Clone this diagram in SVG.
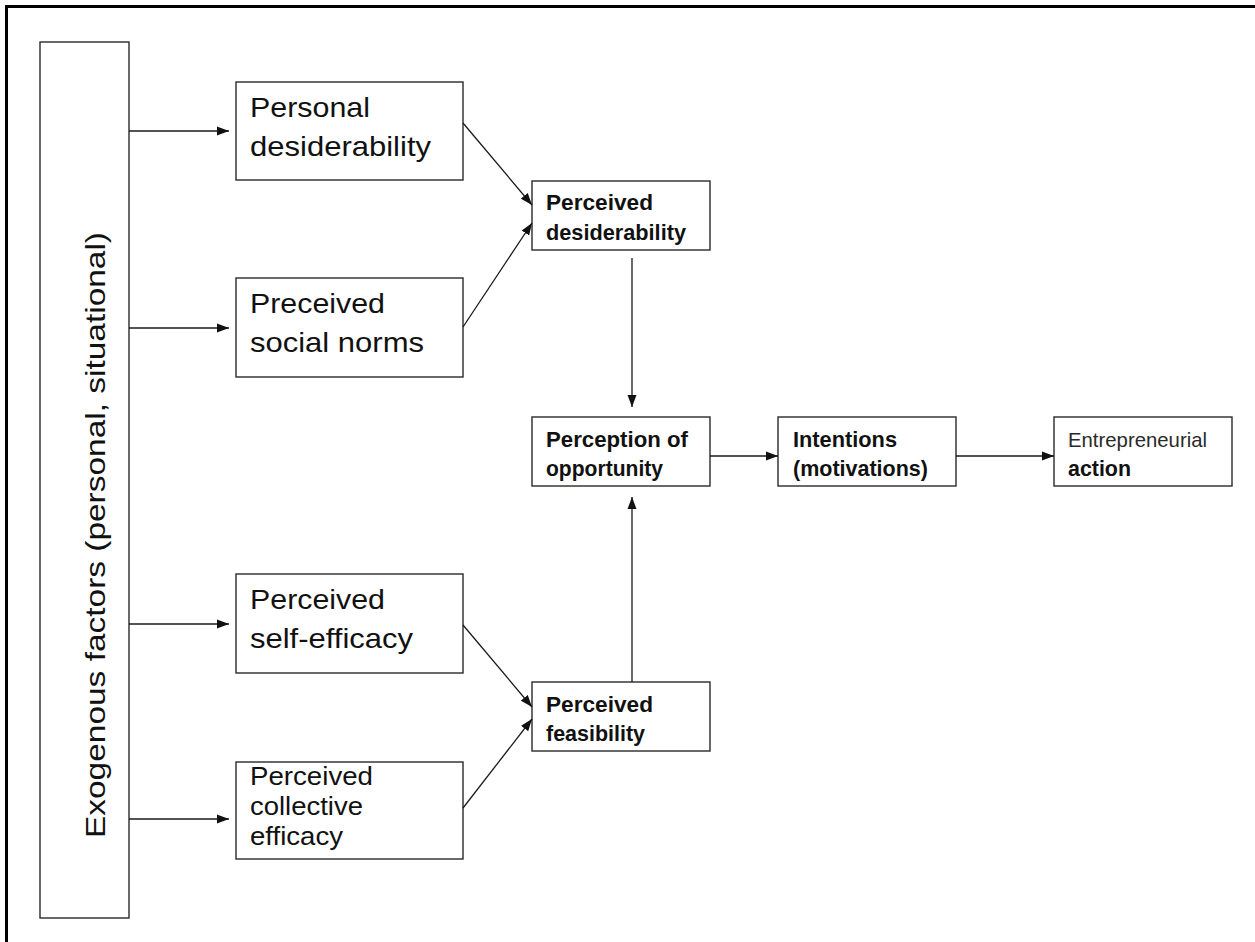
<svg xmlns="http://www.w3.org/2000/svg" width="1255" height="942" viewBox="0 0 1255 942">
  <style>
    .box { fill: #ffffff; stroke: #2a2a2a; stroke-width: 1.4; }
    .big { font-family: "Liberation Sans", Arial, sans-serif; font-size: 28px; fill: #111; }
    .mid { font-family: "Liberation Sans", Arial, sans-serif; font-size: 26px; fill: #111; }
    .small { font-family: "Liberation Sans", Arial, sans-serif; font-size: 22.5px; font-weight: bold; fill: #111; }
    .thin { font-family: "Liberation Sans", Arial, sans-serif; font-size: 21px; fill: #2a2a2a; }
    .conn { fill: none; stroke: #1a1a1a; stroke-width: 1.3; marker-end: url(#arrow); }
  </style>
  <defs>
    <marker id="arrow" markerUnits="userSpaceOnUse" markerWidth="13" markerHeight="10" refX="12" refY="5" orient="auto">
      <path d="M0,0.5 L12,5 L0,9.5 z" fill="#111"/>
    </marker>
  </defs>

  <rect width="1255" height="942" fill="#ffffff"/>
  <!-- frame: top and left edges -->
  <path d="M6.5,942 V6.5 H1255" fill="none" stroke="#000" stroke-width="3"/>

  <g id="exogenous">
    <rect class="box" x="40" y="42" width="89" height="876"/>
    <text class="big" transform="translate(105,535) rotate(-90)" text-anchor="middle" textLength="606" lengthAdjust="spacingAndGlyphs">Exogenous factors (personal, situational)</text>
  </g>

  <g id="personal-desiderability">
    <rect class="box" x="236" y="82" width="227" height="98"/>
    <text class="big" x="250" y="117" textLength="120" lengthAdjust="spacingAndGlyphs">Personal</text>
    <text class="big" x="250" y="156" textLength="181" lengthAdjust="spacingAndGlyphs">desiderability</text>
  </g>

  <g id="social-norms">
    <rect class="box" x="236" y="278" width="227" height="99"/>
    <text class="big" x="250" y="313" textLength="135" lengthAdjust="spacingAndGlyphs">Preceived</text>
    <text class="big" x="250" y="352" textLength="174" lengthAdjust="spacingAndGlyphs">social norms</text>
  </g>

  <g id="self-efficacy">
    <rect class="box" x="236" y="574" width="227" height="99"/>
    <text class="big" x="250" y="609" textLength="135" lengthAdjust="spacingAndGlyphs">Perceived</text>
    <text class="big" x="250" y="648" textLength="163" lengthAdjust="spacingAndGlyphs">self-efficacy</text>
  </g>

  <g id="collective-efficacy">
    <rect class="box" x="236" y="762" width="227" height="97"/>
    <text class="mid" x="250" y="785" textLength="123" lengthAdjust="spacingAndGlyphs">Perceived</text>
    <text class="mid" x="250" y="815" textLength="113" lengthAdjust="spacingAndGlyphs">collective</text>
    <text class="mid" x="250" y="845" textLength="93" lengthAdjust="spacingAndGlyphs">efficacy</text>
  </g>

  <g id="perceived-desiderability">
    <rect class="box" x="532" y="181" width="178" height="69"/>
    <text class="small" x="546" y="210" textLength="107" lengthAdjust="spacingAndGlyphs">Perceived</text>
    <text class="small" x="546" y="240" textLength="140" lengthAdjust="spacingAndGlyphs">desiderability</text>
  </g>

  <g id="perception-of-opportunity">
    <rect class="box" x="532" y="417" width="178" height="69"/>
    <text class="small" x="546" y="447" textLength="142" lengthAdjust="spacingAndGlyphs">Perception of</text>
    <text class="small" x="546" y="476" textLength="117" lengthAdjust="spacingAndGlyphs">opportunity</text>
  </g>

  <g id="perceived-feasibility">
    <rect class="box" x="532" y="682" width="178" height="69"/>
    <text class="small" x="546" y="712" textLength="107" lengthAdjust="spacingAndGlyphs">Perceived</text>
    <text class="small" x="546" y="741" textLength="99" lengthAdjust="spacingAndGlyphs">feasibility</text>
  </g>

  <g id="intentions">
    <rect class="box" x="778" y="417" width="178" height="69"/>
    <text class="small" x="793" y="447" textLength="104" lengthAdjust="spacingAndGlyphs">Intentions</text>
    <text class="small" x="793" y="476" textLength="135" lengthAdjust="spacingAndGlyphs">(motivations)</text>
  </g>

  <g id="entrepreneurial-action">
    <rect class="box" x="1054" y="417" width="178" height="69"/>
    <text class="thin" x="1068" y="447" textLength="139" lengthAdjust="spacingAndGlyphs">Entrepreneurial</text>
    <text class="small" x="1068" y="476" textLength="63" lengthAdjust="spacingAndGlyphs">action</text>
  </g>

  <g id="connectors">
    <path class="conn" d="M129,131 H229"/>
    <path class="conn" d="M129,328 H229"/>
    <path class="conn" d="M129,624 H229"/>
    <path class="conn" d="M129,819 H229"/>
    <path class="conn" d="M463,123 L532,205"/>
    <path class="conn" d="M463,327 L532,223"/>
    <path class="conn" d="M463,625 L532,707"/>
    <path class="conn" d="M463,808 L532,719"/>
    <path class="conn" d="M632,258 V407"/>
    <path class="conn" d="M632,682 V497"/>
    <path class="conn" d="M710,456 H778"/>
    <path class="conn" d="M956,456 H1054"/>
  </g>
</svg>
